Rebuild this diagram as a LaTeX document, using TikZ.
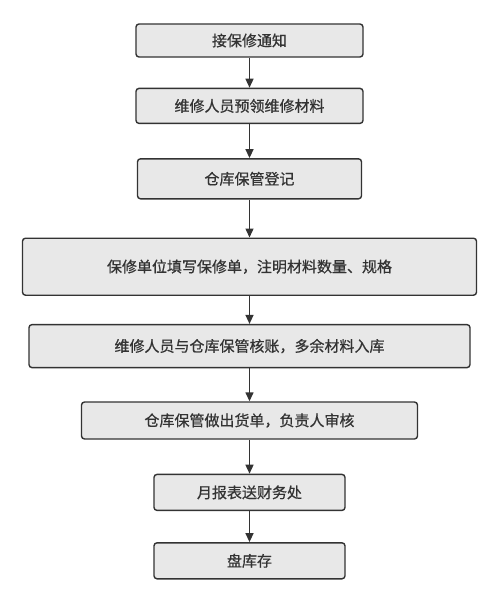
\documentclass[tikz,border=0pt]{standalone}
\usepackage{fontspec}
\newfontfamily\cjk[FakeBold=0.7]{Noto Sans CJK SC}
\usepackage{tikz}
\usetikzlibrary{arrows.meta, positioning}
\definecolor{boxgray}{HTML}{E8E8E8}
\definecolor{linegray}{HTML}{333333}

\begin{document}
\begin{tikzpicture}[
    every node/.style={font=\cjk\fontsize{15}{18}\selectfont, text=linegray},
    proc/.style={draw=linegray, fill=boxgray, rounded corners=3pt, line width=1.4pt, align=center, inner sep=2pt},
    arrow/.style={-{Triangle[length=9pt, width=8pt]}, draw=linegray, line width=1.4pt}
]
    \useasboundingbox (0,0) rectangle (500pt,-592pt);

    % steps, top to bottom
    \node[proc, minimum width=227pt, minimum height=33pt] at (249.5pt,-40.5pt) (notice) {接保修通知};
    \node[proc, minimum width=227pt, minimum height=35pt, below=30pt of notice] (fetch) {维修人员预领维修材料};
    \node[proc, minimum width=224pt, minimum height=40pt, below=34pt of fetch] (register) {仓库保管登记};
    \node[proc, minimum width=454pt, minimum height=57pt, below=38pt of register] (form) {保修单位填写保修单，注明材料数量、规格};
    \node[proc, minimum width=441pt, minimum height=43pt, below=28pt of form] (check) {维修人员与仓库保管核账，多余材料入库};
    \node[proc, minimum width=336pt, minimum height=37pt, below=33pt of check] (bill) {仓库保管做出货单，负责人审核};
    \node[proc, minimum width=191pt, minimum height=36pt, below=34pt of bill] (report) {月报表送财务处};
    \node[proc, minimum width=191pt, minimum height=36pt, below=31pt of report] (stock) {盘库存};

    % Arrows
    \draw[arrow] (notice) -- (fetch);
    \draw[arrow] (fetch) -- (register);
    \draw[arrow] (register) -- (form);
    \draw[arrow] (form) -- (check);
    \draw[arrow] (check) -- (bill);
    \draw[arrow] (bill) -- (report);
    \draw[arrow] (report) -- (stock);
\end{tikzpicture}
\end{document}
